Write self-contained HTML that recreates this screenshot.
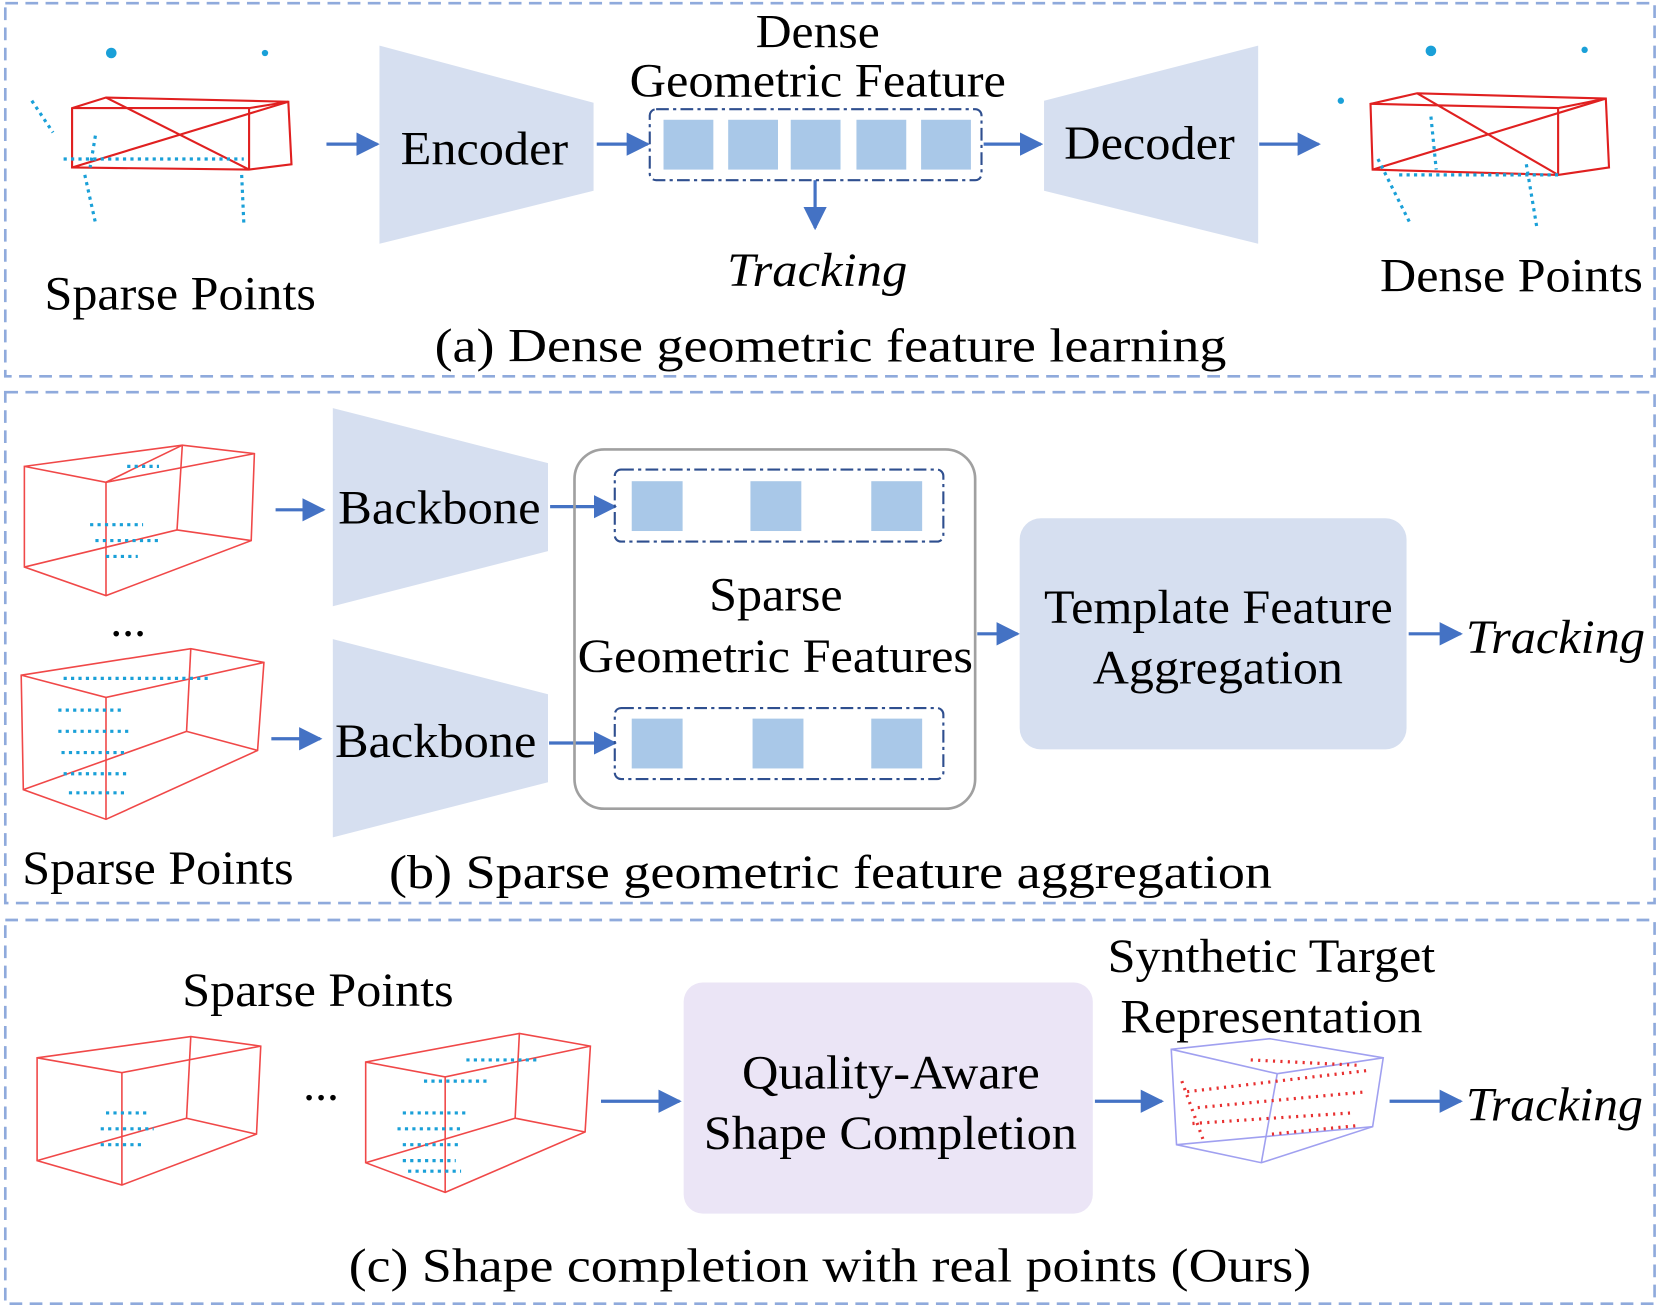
<!DOCTYPE html>
<html><head><meta charset="utf-8"><style>
html,body{margin:0;padding:0;background:#fff;}
svg{display:block;}
text{font-family:"Liberation Serif",serif;fill:#000;}
</style></head><body>
<svg width="1662" height="1309" viewBox="0 0 1568 1235" preserveAspectRatio="none" xmlns="http://www.w3.org/2000/svg">
<defs>
<marker id="ah" viewBox="0 0 10 10" refX="9" refY="5" markerWidth="22" markerHeight="22" orient="auto" markerUnits="userSpaceOnUse">
<path d="M0,0 L10,5 L0,10 Z" fill="#4472c4"/>
</marker>
</defs>
<g fill="none" stroke="#8faadc" stroke-width="2.5" stroke-dasharray="12,7">
<rect x="5" y="3" width="1556" height="352"/>
<rect x="5" y="370" width="1556" height="482"/>
<rect x="5" y="868" width="1556" height="362"/>
</g>
<g stroke="#4472c4" stroke-width="3" marker-end="url(#ah)">
<line x1="308" y1="136" x2="356" y2="136"/>
<line x1="563" y1="136" x2="611" y2="136"/>
<line x1="928" y1="136" x2="982" y2="136"/>
<line x1="1188" y1="136" x2="1244" y2="136"/>
<line x1="769" y1="170" x2="769" y2="215"/>
<line x1="260" y1="481" x2="305" y2="481"/>
<line x1="519" y1="478" x2="580" y2="478"/>
<line x1="256" y1="697" x2="302" y2="697"/>
<line x1="518" y1="701" x2="580" y2="701"/>
<line x1="922" y1="598" x2="960" y2="598"/>
<line x1="1329" y1="598" x2="1378" y2="598"/>
<line x1="567" y1="1039" x2="641" y2="1039"/>
<line x1="1033" y1="1039" x2="1096" y2="1039"/>
<line x1="1311" y1="1039" x2="1378" y2="1039"/>
</g>
<g fill="#d6dff0">
<polygon points="358,43 560,97 560,180 358,230"/>
<polygon points="985,95 1187,43 1187,230 985,180"/>
<polygon points="314,385 517,437 517,520 314,572"/>
<polygon points="314,603 517,655 517,738 314,790"/>
<rect x="962" y="489" width="365" height="218" rx="20"/>
</g>
<rect x="645" y="927" width="386" height="218" rx="18" fill="#ebe5f6"/>
<rect x="542" y="424" width="378" height="339" rx="28" fill="none" stroke="#a0a0a0" stroke-width="2.5"/>
<g fill="none" stroke="#2f4f8f" stroke-width="2" stroke-dasharray="12,4,3,4">
<rect x="613" y="103" width="313" height="67" rx="6"/>
<rect x="580" y="443" width="310" height="68" rx="6"/>
<rect x="580" y="668" width="310" height="67" rx="6"/>
</g>
<g fill="#a9c8e8">
<rect x="626" y="113" width="47" height="47"/><rect x="687" y="113" width="47" height="47"/><rect x="746" y="113" width="47" height="47"/><rect x="808" y="113" width="47" height="47"/><rect x="869" y="113" width="47" height="47"/>
<rect x="596" y="454" width="48" height="47"/><rect x="708" y="454" width="48" height="47"/><rect x="822" y="454" width="48" height="47"/>
<rect x="596" y="678" width="48" height="47"/><rect x="710" y="678" width="48" height="47"/><rect x="822" y="678" width="48" height="47"/>
</g>
<g fill="none" stroke="#e02020" stroke-width="2">
<polygon points="68,102 100,92 272,96 275,155 235,160 68,158"/>
<line x1="100" y1="92" x2="235" y2="160"/><line x1="272" y1="96" x2="68" y2="158"/><line x1="235" y1="102" x2="235" y2="160"/><line x1="68" y1="102" x2="235" y2="102"/><line x1="235" y1="102" x2="272" y2="96"/>
<polygon points="1293,98 1337,88 1515,93 1518,158 1470,165 1295,160"/>
<line x1="1337" y1="88" x2="1470" y2="165"/><line x1="1515" y1="93" x2="1295" y2="160"/><line x1="1470" y1="102" x2="1470" y2="165"/><line x1="1293" y1="98" x2="1470" y2="102"/><line x1="1470" y1="102" x2="1515" y2="93"/>
</g>
<g fill="none" stroke="#f04848" stroke-width="1.5">
<polygon points="23,440 172,420 240,428 237,510 100,562 23,535"/><polyline points="23,440 100,455 240,428"/><line x1="100" y1="455" x2="100" y2="562"/><line x1="172" y1="420" x2="167" y2="500"/><line x1="23" y1="535" x2="167" y2="500" /><line x1="167" y1="500" x2="237" y2="510"/><line x1="100" y1="455" x2="172" y2="420"/>
<polygon points="20,637 180,612 249,625 243,708 100,773 22,745"/><polyline points="20,637 100,658 249,625"/><line x1="100" y1="658" x2="100" y2="773"/><line x1="180" y1="612" x2="176" y2="690"/><line x1="22" y1="745" x2="176" y2="690"/><line x1="176" y1="690" x2="243" y2="708"/>
<polygon points="35,998 180,978 246,987 242,1070 115,1118 35,1095"/><polyline points="35,998 115,1012 246,987"/><line x1="115" y1="1012" x2="115" y2="1118"/><line x1="180" y1="978" x2="176" y2="1055"/><line x1="35" y1="1095" x2="176" y2="1055"/><line x1="176" y1="1055" x2="242" y2="1070"/>
<polygon points="345,1002 490,975 557,987 552,1068 420,1125 345,1097"/><polyline points="345,1002 420,1016 557,987"/><line x1="420" y1="1016" x2="420" y2="1125"/><line x1="490" y1="975" x2="486" y2="1055"/><line x1="345" y1="1097" x2="486" y2="1055"/><line x1="486" y1="1055" x2="552" y2="1068"/>
</g>
<g fill="none" stroke="#a0a0f0" stroke-width="1.5">
<polygon points="1105,990 1198,980 1305,998 1295,1063 1190,1097 1110,1080"/><line x1="1105" y1="990" x2="1205" y2="1013"/><line x1="1205" y1="1013" x2="1305" y2="998"/><line x1="1205" y1="1013" x2="1190" y2="1097"/><line x1="1110" y1="1080" x2="1295" y2="1063"/>
</g>
<g fill="#1aa0d8">
<path d="M60,150 h170 M90,128 l-5,30 M228,165 l2,45 M80,165 l10,45 M30,95 l20,30 M1300,150 l30,60 M1440,155 l10,60 M1320,165 h150 M1350,110 l5,50" stroke="#1aa0d8" stroke-width="3" stroke-dasharray="3,4"/>
<circle cx="105" cy="50" r="5"/><circle cx="250" cy="50" r="3"/><circle cx="1350" cy="48" r="5"/><circle cx="1495" cy="47" r="3"/><circle cx="1265" cy="95" r="3"/>
<path d="M85,495 h50 M90,510 h60 M100,525 h30 M120,440 h30 M60,640 h140 M55,670 h60 M55,690 h70 M58,710 h60 M60,730 h60 M65,748 h55 M100,1050 h40 M95,1065 h50 M95,1080 h40 M380,1050 h60 M375,1065 h60 M380,1080 h55 M380,1095 h50 M385,1105 h50 M400,1020 h60 M440,1000 h70" stroke="#1aa0d8" stroke-width="3" stroke-dasharray="3,4"/>
</g>
<g>
<path d="M1120,1030 l170,-20 M1130,1045 l160,-15 M1125,1060 l150,-10 M1180,1000 l100,5 M1115,1020 l20,55 M1200,1070 l80,-8" stroke="#e83030" stroke-width="3" stroke-dasharray="2,5"/>
</g>
<g font-size="45" lengthAdjust="spacingAndGlyphs">
<text x="713" y="45" textLength="117" lengthAdjust="spacingAndGlyphs">Dense</text>
<text x="594" y="91" textLength="355" lengthAdjust="spacingAndGlyphs">Geometric Feature</text>
<text x="378" y="155" textLength="158" lengthAdjust="spacingAndGlyphs">Encoder</text>
<text x="1004" y="150" textLength="161" lengthAdjust="spacingAndGlyphs">Decoder</text>
<text x="686" y="270" textLength="170" lengthAdjust="spacingAndGlyphs" font-style="italic">Tracking</text>
<text x="42" y="292" textLength="256" lengthAdjust="spacingAndGlyphs">Sparse Points</text>
<text x="1302" y="275" textLength="248" lengthAdjust="spacingAndGlyphs">Dense Points</text>
<text x="410" y="341" textLength="747" lengthAdjust="spacingAndGlyphs">(a) Dense geometric feature learning</text>
<text x="319" y="494" textLength="191" lengthAdjust="spacingAndGlyphs">Backbone</text>
<text x="316" y="714" textLength="190" lengthAdjust="spacingAndGlyphs">Backbone</text>
<text x="104" y="600">...</text>
<text x="669" y="576" textLength="126" lengthAdjust="spacingAndGlyphs">Sparse</text>
<text x="545" y="634" textLength="373" lengthAdjust="spacingAndGlyphs">Geometric Features</text>
<text x="985" y="588" textLength="329" lengthAdjust="spacingAndGlyphs">Template Feature</text>
<text x="1031" y="645" textLength="236" lengthAdjust="spacingAndGlyphs">Aggregation</text>
<text x="1383" y="616" textLength="169" lengthAdjust="spacingAndGlyphs" font-style="italic">Tracking</text>
<text x="21" y="834" textLength="256" lengthAdjust="spacingAndGlyphs">Sparse Points</text>
<text x="367" y="838" textLength="833" lengthAdjust="spacingAndGlyphs">(b) Sparse geometric feature aggregation</text>
<text x="172" y="949" textLength="256" lengthAdjust="spacingAndGlyphs">Sparse Points</text>
<text x="286" y="1038">...</text>
<text x="1045" y="917" textLength="309" lengthAdjust="spacingAndGlyphs">Synthetic Target</text>
<text x="1057" y="974" textLength="285" lengthAdjust="spacingAndGlyphs">Representation</text>
<text x="700" y="1027" textLength="281" lengthAdjust="spacingAndGlyphs">Quality-Aware</text>
<text x="664" y="1084" textLength="352" lengthAdjust="spacingAndGlyphs">Shape Completion</text>
<text x="1383" y="1057" textLength="167" lengthAdjust="spacingAndGlyphs" font-style="italic">Tracking</text>
<text x="329" y="1209" textLength="908" lengthAdjust="spacingAndGlyphs">(c) Shape completion with real points (Ours)</text>
</g>
</svg>
</body></html>
